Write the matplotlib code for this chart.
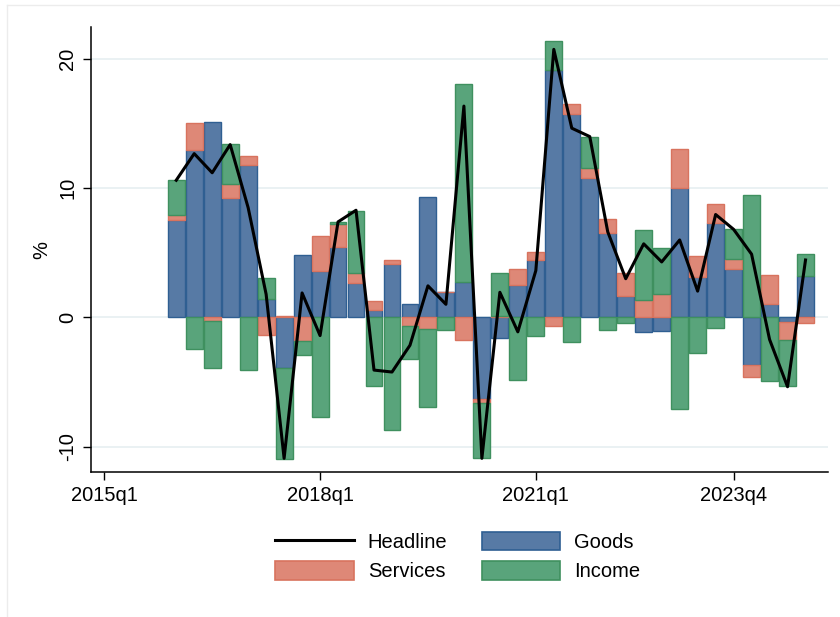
import numpy as np
import matplotlib.pyplot as plt
from matplotlib.lines import Line2D
from matplotlib.patches import Patch

plt.rcParams['font.family'] = ['Liberation Sans', 'DejaVu Sans']

# quarters 2016q1 .. 2024q4
quarters = [f"{y}q{q}" for y in range(2016, 2025) for q in range(1, 5)]
goods = [7.52, 13.0, 15.1, 9.25, 11.78, 1.42, -3.94, 4.82, 3.6, 5.48, 2.7, 0.56,
         4.15, 1.08, 9.33, 2.01, 2.73, -6.27, -1.57, 2.55, 4.48, 19.13, 15.78, 10.8,
         6.57, 1.65, -1.16, -1.05, 10.03, 3.15, 7.29, 3.74, -3.66, 1.08, -0.36, 3.2]
services = [0.45, 2.05, -0.26, 1.06, 0.75, -1.32, 0.1, -1.81, 2.74, 1.73, 0.78, 0.7,
            0.33, -0.67, -0.9, 0.0, -1.76, -0.31, 0.1, 1.19, 0.57, -0.67, 0.77, 0.8,
            1.06, 1.8, 1.39, 1.79, 3.04, 1.62, 1.47, 0.78, -0.95, 2.17, -1.42, -0.43]
income = [2.65, -2.43, -3.68, 3.08, -4.08, 1.65, -7.04, -1.13, -7.73, 0.18, 4.79, -5.31,
          -8.72, -2.58, -6.01, -0.98, 15.37, -4.32, 3.38, -4.85, -1.45, 2.26, -1.93, 2.37,
          -0.98, -0.46, 5.41, 3.56, -7.08, -2.75, -0.82, 2.32, 9.49, -4.9, -3.56, 1.7]
headline = [10.62, 12.68, 11.2, 13.38, 8.5, 1.8, -10.9, 1.9, -1.4, 7.4, 8.3, -4.07,
            -4.22, -2.15, 2.45, 1.02, 16.36, -10.9, 1.95, -1.11, 3.63, 20.75, 14.65, 14.0,
            6.63, 3.0, 5.7, 4.3, 6.0, 2.04, 7.97, 6.82, 4.9, -1.7, -5.36, 4.45]

# x position = quarters since 2015q1
x = np.arange(len(quarters)) + 4

fills = {'Goods': '#577aa5', 'Services': '#de8877', 'Income': '#59a47b'}
edges = {'Goods': '#2f5f92', 'Services': '#d8735e', 'Income': '#3f905f'}
series = [('Goods', goods), ('Services', services), ('Income', income)]

fig = plt.figure(figsize=(8.4, 6.17), dpi=100)
ax = fig.add_axes([91 / 840, 1 - 472.3 / 617, (828 - 91) / 840, (472.3 - 27) / 617])

pos_base = np.zeros(len(x))
neg_base = np.zeros(len(x))
for name, vals in series:
    v = np.array(vals)
    bottom = np.where(v >= 0, pos_base, neg_base)
    ax.bar(x, v, width=0.94, bottom=bottom, color=fills[name], edgecolor=edges[name],
           linewidth=1.0, zorder=2)
    pos_base = pos_base + np.where(v >= 0, v, 0)
    neg_base = neg_base + np.where(v < 0, v, 0)

ax.plot(x, headline, color='black', lw=2.2, zorder=3)

ax.set_xlim(-0.74, 40.25)
ax.set_ylim(-11.98, 22.48)
ax.set_yticks([-10, 0, 10, 20])
ax.set_yticklabels(['-10', '0', '10', '20'], rotation=90, va='center')
ax.set_xticks([0, 12, 24, 35])
ax.set_xticklabels(['2015q1', '2018q1', '2021q1', '2023q4'])
ax.tick_params(labelsize=14.5, length=6, width=1, color='black', pad=4)
ax.set_ylabel('%', fontsize=14.5, labelpad=5)
for y in [-10, 0, 10, 20]:
    ax.axhline(y, color='#e6eff1', lw=1.2, zorder=1)
for s in ['top', 'right']:
    ax.spines[s].set_visible(False)
for s in ['left', 'bottom']:
    ax.spines[s].set_linewidth(1.1)

handles = [Line2D([0], [0], color='black', lw=2.2),
           Patch(facecolor=fills['Services'], edgecolor=edges['Services'], lw=1.2),
           Patch(facecolor=fills['Goods'], edgecolor=edges['Goods'], lw=1.2),
           Patch(facecolor=fills['Income'], edgecolor=edges['Income'], lw=1.2)]
labels = ['Headline', 'Services', 'Goods', 'Income']
fig.legend(handles, labels, ncol=2, loc='center', bbox_to_anchor=(0.545, 0.098),
           frameon=False, fontsize=14.5, handlelength=3.9, handleheight=1.05,
           handletextpad=0.7, columnspacing=1.7, labelspacing=0.45)

# faint outer region border
fig.add_artist(Line2D([7 / 840, 7 / 840], [0, 1 - 5 / 617], color='#ececec', lw=1))
fig.add_artist(Line2D([7 / 840, 1], [1 - 5 / 617, 1 - 5 / 617], color='#ececec', lw=1))

fig.savefig('out.png', dpi=100)
